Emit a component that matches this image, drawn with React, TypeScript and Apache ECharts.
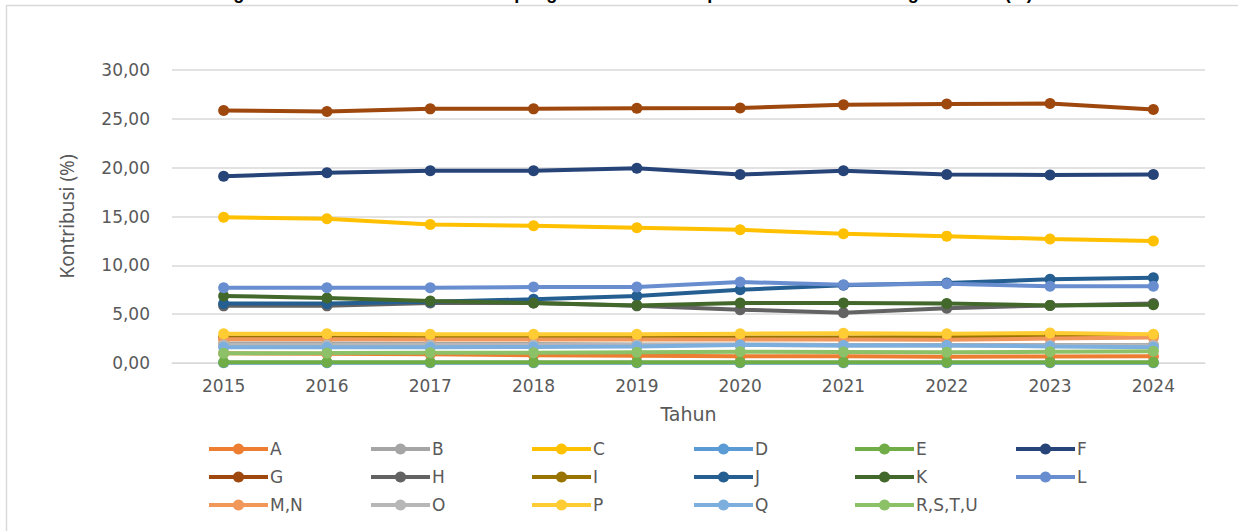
import React, { useEffect, useRef } from "react";
import * as echarts from "echarts";

const years = ["2015", "2016", "2017", "2018", "2019", "2020", "2021", "2022", "2023", "2024"];

const seriesNames = ["A", "B", "C", "D", "E", "F", "G", "H", "I", "J", "K", "L", "M,N", "O", "P", "Q", "R,S,T,U"];
const seriesColors = [
  "#ED7D31", "#A5A5A5", "#FFC000", "#5B9BD5", "#70AD47", "#264478",
  "#9E480E", "#636363", "#997300", "#255E91", "#43682B", "#698ED0",
  "#F1975A", "#B7B7B7", "#FFCD33", "#7CAFDD", "#8CC168",
];

const A = [1.0, 0.95, 0.9, 0.8, 0.75, 0.7, 0.68, 0.65, 0.66, 0.68];
const B = [2.0, 2.0, 1.95, 1.95, 1.9, 1.9, 1.85, 1.85, 1.85, 1.85];
const C = [14.93, 14.76, 14.18, 14.05, 13.84, 13.64, 13.23, 12.99, 12.69, 12.48];
const D = [0.03, 0.03, 0.03, 0.03, 0.03, 0.03, 0.03, 0.03, 0.03, 0.03];
const E = [0.08, 0.08, 0.08, 0.08, 0.08, 0.08, 0.08, 0.08, 0.08, 0.08];
const F = [19.12, 19.49, 19.69, 19.69, 19.93, 19.29, 19.69, 19.29, 19.25, 19.29];
const G = [25.85, 25.75, 26.02, 26.02, 26.09, 26.12, 26.43, 26.53, 26.56, 25.95];
const H = [5.85, 5.85, 6.14, 6.14, 5.85, 5.46, 5.15, 5.6, 5.9, 6.08];
const I = [2.6, 2.6, 2.55, 2.55, 2.55, 2.6, 2.6, 2.65, 2.83, 2.83];
const J = [6.08, 6.08, 6.28, 6.52, 6.86, 7.51, 7.95, 8.19, 8.57, 8.74];
const K = [6.86, 6.66, 6.35, 6.14, 5.9, 6.14, 6.14, 6.08, 5.9, 5.97];
const L = [7.71, 7.71, 7.71, 7.78, 7.78, 8.29, 8.02, 8.12, 7.85, 7.85];
const MN = [2.42, 2.42, 2.4, 2.4, 2.4, 2.4, 2.4, 2.39, 2.5, 2.6];
const O = [1.85, 1.85, 1.85, 1.85, 1.85, 1.85, 1.8, 1.8, 1.8, 1.8];
const P = [3.0, 3.0, 2.95, 2.95, 2.95, 3.0, 3.05, 3.0, 3.07, 2.94];
const Q = [1.6, 1.6, 1.6, 1.65, 1.7, 1.85, 1.8, 1.8, 1.7, 1.6];
const RSTU = [1.0, 1.02, 1.05, 1.05, 1.1, 1.15, 1.13, 1.1, 1.15, 1.2];

const seriesValues = [A, B, C, D, E, F, G, H, I, J, K, L, MN, O, P, Q, RSTU];

const legendColumns = [
  ["A", "G", "M,N"],
  ["B", "H", "O"],
  ["C", "I", "P"],
  ["D", "J", "Q"],
  ["E", "K", "R,S,T,U"],
  ["F", "L"],
];
const legendLefts = [207, 369, 530, 692, 853, 1014];

const titleText = "Figure 1. Persentase Kontribusi Lapangan Usaha terhadap PDRB Atas Dasar Harga Berlaku (%)";

const labelColor = "#595959";
const tickFont = "DejaVu Sans";

export default function App() {
  const ref = useRef<HTMLDivElement>(null);

  useEffect(() => {
    document.body.style.margin = "0";
    const chart = echarts.init(ref.current!, null, { renderer: "svg" });
    const option: any = {
      animation: false,
      backgroundColor: "#ffffff",
      grid: { left: 172, right: 33, top: 70, bottom: 168, containLabel: false },
      xAxis: {
        type: "category",
        data: years,
        boundaryGap: true,
        name: "Tahun",
        nameLocation: "middle",
        nameGap: 41,
        nameTextStyle: { color: labelColor, fontFamily: tickFont, fontSize: 19 },
        axisLine: { show: true, lineStyle: { color: "#d9d9d9", width: 1 } },
        axisTick: { show: false },
        axisLabel: { color: labelColor, fontFamily: tickFont, fontSize: 17, margin: 14 },
      },
      yAxis: {
        type: "value",
        min: 0,
        max: 30,
        interval: 5,
        name: "Kontribusi (%)",
        nameLocation: "middle",
        nameGap: 96,
        nameTextStyle: { color: labelColor, fontFamily: "Noto Sans", fontSize: 19 },
        axisLine: { show: false },
        axisTick: { show: false },
        splitLine: { lineStyle: { color: "#d9d9d9", width: 1.5 } },
        axisLabel: {
          color: labelColor,
          fontFamily: tickFont,
          fontSize: 17,
          margin: 22,
          formatter: (v: number) => v.toFixed(2).replace(".", ","),
        },
      },
      legend: legendColumns.map((col, i) => ({
        orient: "vertical",
        left: legendLefts[i],
        top: 440,
        padding: 0,
        data: col,
        itemWidth: 59,
        itemHeight: 14,
        itemGap: 10,
        selectedMode: false,
        lineStyle: { width: 4 },
        textStyle: { color: labelColor, fontFamily: tickFont, fontSize: 17, lineHeight: 18, padding: [0, 0, 0, -3] },
      })),
      graphic: [
        {
          type: "rect",
          shape: { x: 6.5, y: 5.5, width: 1400, height: 700 },
          style: { fill: "none", stroke: "#d9d9d9", lineWidth: 1.5 },
          silent: true,
        },
        {
          type: "text",
          x: 625,
          y: 1.5,
          style: {
            text: titleText,
            fill: "#000000",
            font: "bold 18px 'Liberation Sans'",
            align: "center",
            verticalAlign: "bottom",
          },
          silent: true,
        },
      ],
      series: seriesNames.map((name, i) => ({
        name,
        type: "line",
        data: seriesValues[i],
        color: seriesColors[i],
        symbol: "circle",
        symbolSize: 11,
        lineStyle: { width: 4, color: seriesColors[i] },
        itemStyle: { color: seriesColors[i] },
        emphasis: { disabled: true },
      })),
    };
    chart.setOption(option);
    return () => chart.dispose();
  }, []);

  return (
    <div
      ref={ref}
      style={{ position: "absolute", left: 0, top: 0, width: 1238, height: 531, background: "#fff" }}
    />
  );
}
